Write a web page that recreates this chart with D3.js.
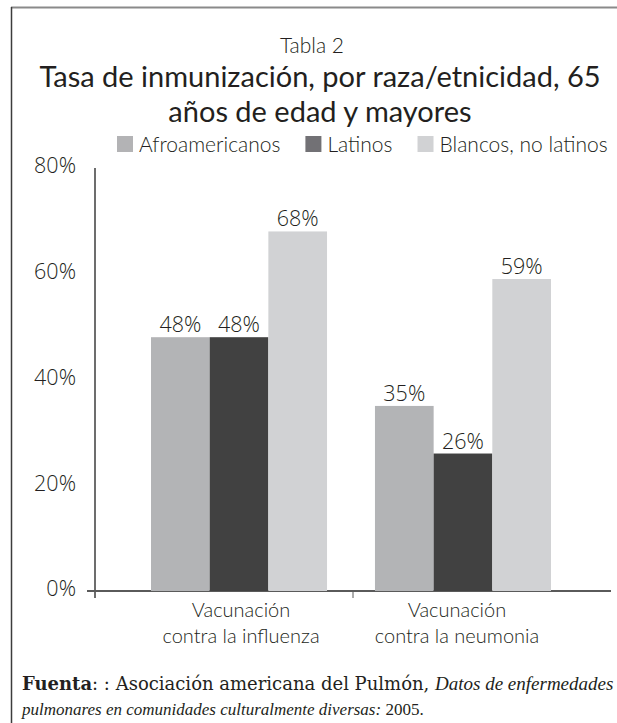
<!DOCTYPE html>
<html>
<head>
<meta charset="utf-8">
<script src="https://cdn.jsdelivr.net/npm/d3@7"></script>
<style>
  body { margin: 0; background: #fff; }
  svg text { fill: #231f20; }
  .sans { font-family: Lato, "Open Sans", sans-serif; }
  .num { font-family: "Open Sans", "DejaVu Sans", sans-serif; font-weight: 300; }
  .serif { font-family: "DejaVu Serif", serif; }
  .times { font-family: "Liberation Serif", serif; }
</style>
</head>
<body>
<div id="graphic"></div>
<script>
// categories (two lines each)
const categories = ["influenza", "neumonia"];
const categoryLines = [
  ["Vacunación", "contra la influenza"],
  ["Vacunación", "contra la neumonia"]
];
const series = ["Afroamericanos", "Latinos", "Blancos, no latinos"];
// values, %
const afroamericanos = [48, 35];
const latinos = [48, 26];
const blancos = [68, 59];
const yTicks = [0, 20, 40, 60, 80];

const barColors = ["#b3b4b6", "#414141", "#d1d2d4"];
const legendColors = ["#b3b3b5", "#727175", "#d1d2d4"];

const rows = categories.map(function(c, i){
  return { key: c, lines: categoryLines[i], values: [afroamericanos[i], latinos[i], blancos[i]] };
});

const chart = {
  width: 617,
  height: 723,
  el: "#graphic",
  createScales(){
    this.yScale = d3.scaleLinear()
      .domain([0, 80])
      .range([591, 168]);

    this.x0Scale = d3.scaleBand()
      .domain(categories)
      .range([151, 551])
      .paddingInner(0.214)
      .paddingOuter(0);

    this.x1Scale = d3.scaleBand()
      .domain(series)
      .range([0, this.x0Scale.bandwidth()])
      .padding(0);
  },
  drawPlot(){
    this.svg = d3.select(this.el)
      .append("svg")
      .attr("width", this.width)
      .attr("height", this.height);

    // frame
    this.svg.append("line")
      .attr("x1", 11).attr("x2", 617).attr("y1", 7.5).attr("y2", 7.5)
      .attr("stroke", "#8a8a8a").attr("stroke-width", 2);
    this.svg.append("line")
      .attr("x1", 11.5).attr("x2", 11.5).attr("y1", 7).attr("y2", 723)
      .attr("stroke", "#3c3c3c").attr("stroke-width", 1.5);
  },
  drawTitles(){
    this.svg.append("text")
      .attr("class", "sans")
      .attr("x", 312).attr("y", 53)
      .attr("text-anchor", "middle")
      .style("font-size", "21px")
      .style("font-weight", 300)
      .text("Tabla 2");

    const title = ["Tasa de inmunización, por raza/etnicidad, 65", "años de edad y mayores"];
    this.svg.append("g").selectAll("text")
      .data(title)
      .enter()
      .append("text")
      .attr("class", "sans")
      .attr("x", 320)
      .attr("y", (d, i) => 87 + i * 35)
      .attr("text-anchor", "middle")
      .style("font-size", "29px")
      .style("font-weight", 400)
      .text(d => d);
  },
  drawLegend(){
    const legend = this.svg.append("g").attr("class", "legend");
    let x = 117;
    series.forEach(function(s, i){
      legend.append("rect")
        .attr("x", x).attr("y", 136)
        .attr("width", 16).attr("height", 16)
        .attr("fill", legendColors[i]);
      const t = legend.append("text")
        .attr("class", "sans")
        .attr("x", x + 22).attr("y", 152)
        .style("font-size", "21px")
        .style("font-weight", 300)
        .text(s);
      x = x + 22 + t.node().getComputedTextLength() + 25;
    });
  },
  drawAxes(){
    const that = this;
    const yAxis = d3.axisLeft(this.yScale)
      .tickValues(yTicks)
      .tickSize(0)
      .tickPadding(19)
      .tickFormat(d => d + "%");

    const gy = this.svg.append("g")
      .attr("class", "axis yaxis")
      .attr("transform", "translate(95,0)")
      .call(yAxis);
    gy.select(".domain").remove();
    gy.selectAll("text")
      .attr("class", "num")
      .attr("dy", "0.36em")
      .attr("y", -3)
      .style("font-size", "21.5px")
      .style("fill", "#231f20");

    // axis lines
    this.svg.append("line")
      .attr("x1", 95).attr("x2", 95)
      .attr("y1", this.yScale(80)).attr("y2", this.yScale(0) + 7)
      .attr("stroke", "#3c3c3c").attr("stroke-width", 1.5);
    this.svg.append("line")
      .attr("x1", 87).attr("x2", 611)
      .attr("y1", this.yScale(0)).attr("y2", this.yScale(0))
      .attr("stroke", "#5a5a5a").attr("stroke-width", 2);

    // divider tick between groups
    const step = this.x0Scale.step();
    const mid = this.x0Scale(categories[1]) - (step - this.x0Scale.bandwidth()) / 2 + 2;
    this.svg.append("line")
      .attr("x1", mid).attr("x2", mid)
      .attr("y1", this.yScale(0)).attr("y2", this.yScale(0) + 7)
      .attr("stroke", "#5a5a5a").attr("stroke-width", 1);

    // category labels
    const cats = this.svg.append("g").attr("class", "categories");
    rows.forEach(function(r, i){
      const cx = that.x0Scale(r.key) + that.x0Scale.bandwidth() / 2 + (i === 0 ? 2 : -6);
      r.lines.forEach(function(line, j){
        cats.append("text")
          .attr("class", "sans")
          .attr("x", cx).attr("y", 617 + j * 26)
          .attr("text-anchor", "middle")
          .style("font-size", "20px")
          .style("font-weight", 300)
          .text(line);
      });
    });
  },
  drawData(){
    const that = this;
    const groups = this.svg.append("g")
      .attr("class", "bars")
      .selectAll("g")
      .data(rows)
      .enter()
      .append("g")
      .attr("transform", d => `translate(${that.x0Scale(d.key)},0)`);

    const cells = groups.selectAll("g")
      .data(d => d.values.map((v, i) => ({ series: series[i], value: v, idx: i })))
      .enter()
      .append("g");

    cells.append("rect")
      .attr("x", d => that.x1Scale(d.series))
      .attr("y", d => that.yScale(d.value))
      .attr("width", that.x1Scale.bandwidth())
      .attr("height", d => that.yScale(0) - that.yScale(d.value))
      .attr("fill", d => barColors[d.idx]);

    cells.append("text")
      .attr("class", "num")
      .attr("x", d => that.x1Scale(d.series) + that.x1Scale.bandwidth() / 2)
      .attr("y", d => that.yScale(d.value) - 5)
      .attr("text-anchor", "middle")
      .style("font-size", "21.5px")
      .text(d => d.value + "%");
  },
  drawSource(){
    const src = this.svg.append("g").attr("class", "source");
    const l1 = src.append("text").attr("class", "serif").attr("x", 22).attr("y", 690).style("font-size", "18px");
    l1.append("tspan").style("font-weight", "bold").text("Fuenta");
    l1.append("tspan").text(": : Asociación americana del Pulmón, ");
    l1.append("tspan").attr("class", "times").style("font-style", "italic").style("font-size", "19px").text("Datos de enfermedades");
    const l2 = src.append("text").attr("class", "times").attr("x", 22).attr("y", 715).style("font-size", "17px");
    l2.append("tspan").style("font-style", "italic").text("pulmonares en comunidades culturalmente diversas:");
    l2.append("tspan").text(" 2005.");
  },
  draw(){
    this.createScales();
    this.drawPlot();
    this.drawTitles();
    this.drawLegend();
    this.drawAxes();
    this.drawData();
    this.drawSource();
  }
};

chart.draw();
</script>
</body>
</html>
